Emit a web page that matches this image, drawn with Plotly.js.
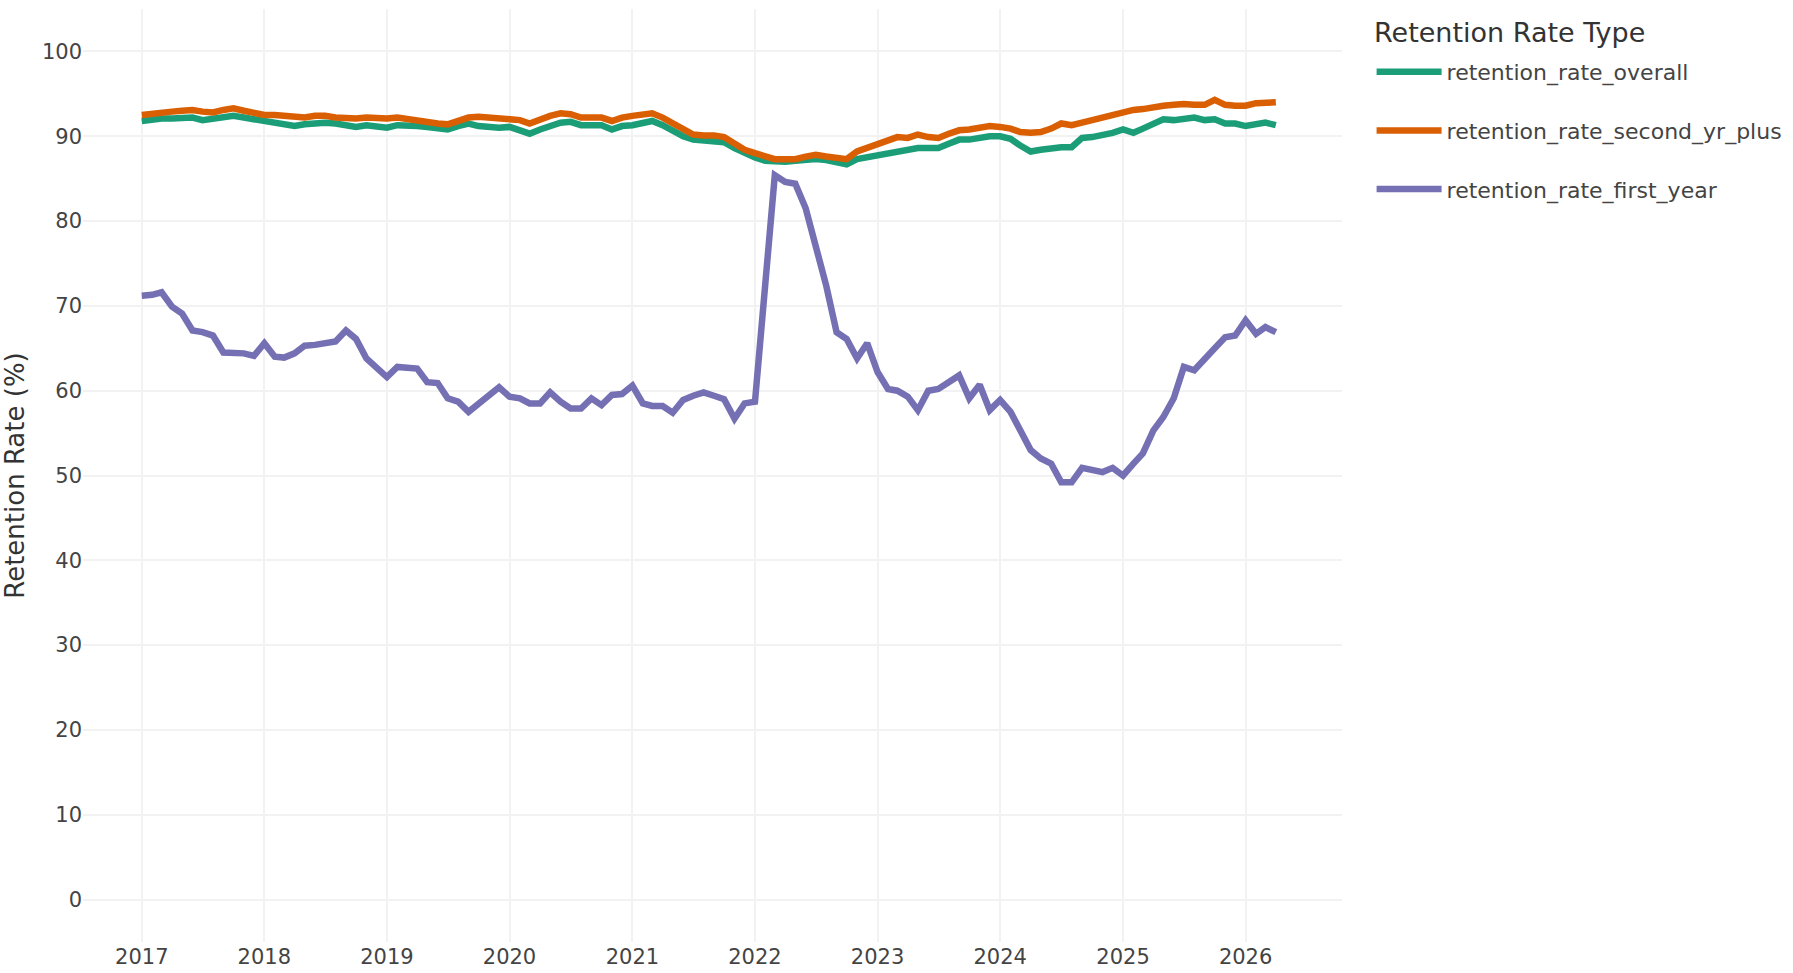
<!DOCTYPE html>
<html>
<head>
<meta charset="utf-8">
<script src="https://cdn.plot.ly/plotly-3.0.1.min.js"></script>
<style>html,body{margin:0;padding:0;background:#fff;}#chart{width:1793px;height:973px;}</style>
</head>
<body>
<div id="chart"></div>
<script>
// Monthly dates, Jan 2017 - Apr 2026
const dates = [
  '2017-01-01','2017-02-01','2017-03-01','2017-04-01','2017-05-01','2017-06-01','2017-07-01','2017-08-01','2017-09-01','2017-10-01','2017-11-01','2017-12-01',
  '2018-01-01','2018-02-01','2018-03-01','2018-04-01','2018-05-01','2018-06-01','2018-07-01','2018-08-01','2018-09-01','2018-10-01','2018-11-01','2018-12-01',
  '2019-01-01','2019-02-01','2019-03-01','2019-04-01','2019-05-01','2019-06-01','2019-07-01','2019-08-01','2019-09-01','2019-10-01','2019-11-01','2019-12-01',
  '2020-01-01','2020-02-01','2020-03-01','2020-04-01','2020-05-01','2020-06-01','2020-07-01','2020-08-01','2020-09-01','2020-10-01','2020-11-01','2020-12-01',
  '2021-01-01','2021-02-01','2021-03-01','2021-04-01','2021-05-01','2021-06-01','2021-07-01','2021-08-01','2021-09-01','2021-10-01','2021-11-01','2021-12-01',
  '2022-01-01','2022-02-01','2022-03-01','2022-04-01','2022-05-01','2022-06-01','2022-07-01','2022-08-01','2022-09-01','2022-10-01','2022-11-01','2022-12-01',
  '2023-01-01','2023-02-01','2023-03-01','2023-04-01','2023-05-01','2023-06-01','2023-07-01','2023-08-01','2023-09-01','2023-10-01','2023-11-01','2023-12-01',
  '2024-01-01','2024-02-01','2024-03-01','2024-04-01','2024-05-01','2024-06-01','2024-07-01','2024-08-01','2024-09-01','2024-10-01','2024-11-01','2024-12-01',
  '2025-01-01','2025-02-01','2025-03-01','2025-04-01','2025-05-01','2025-06-01','2025-07-01','2025-08-01','2025-09-01','2025-10-01','2025-11-01','2025-12-01',
  '2026-01-01','2026-02-01','2026-03-01','2026-04-01'
];

const retentionOverall = [
  91.8, 92.0, 92.1, 92.1, 92.2, 92.2, 91.9, 92.1, 92.2, 92.4, 92.2, 92.0,
  91.8, 91.6, 91.4, 91.2, 91.4, 91.6, 91.6, 91.5, 91.3, 91.1, 91.3, 91.2,
  91.0, 91.3, 91.3, 91.2, 91.1, 91.0, 90.8, 91.2, 91.5, 91.2, 91.0, 91.0,
  91.1, 90.6, 90.3, 90.8, 91.1, 91.6, 91.7, 91.3, 91.3, 91.3, 90.8, 91.2,
  91.3, 91.6, 91.8, 91.3, 90.6, 90.0, 89.6, 89.5, 89.4, 89.3, 88.6, 88.0,
  87.5, 87.1, 87.0, 87.0, 87.1, 87.2, 87.3, 87.2, 87.0, 86.7, 87.3, 87.5,
  87.7, 88.0, 88.2, 88.3, 88.6, 88.6, 88.6, 89.1, 89.6, 89.6, 89.8, 90.0,
  90.0, 89.7, 88.9, 88.2, 88.4, 88.6, 88.7, 88.7, 89.8, 89.9, 90.1, 90.4,
  90.8, 90.4, 90.9, 91.4, 92.0, 91.9, 92.1, 92.2, 91.9, 92.0, 91.5, 91.5,
  91.2, 91.4, 91.6, 91.3
];

const retentionSecondYrPlus = [
  92.5, 92.7, 92.8, 92.9, 93.0, 93.1, 92.9, 92.8, 93.1, 93.3, 93.0, 92.7,
  92.5, 92.5, 92.4, 92.2, 92.2, 92.4, 92.4, 92.2, 92.1, 92.1, 92.2, 92.1,
  92.1, 92.2, 92.0, 91.8, 91.6, 91.5, 91.4, 91.8, 92.2, 92.3, 92.2, 92.2,
  92.1, 91.9, 91.5, 92.0, 92.4, 92.7, 92.6, 92.2, 92.2, 92.2, 91.8, 92.2,
  92.4, 92.5, 92.7, 92.2, 91.6, 91.0, 90.2, 90.1, 90.1, 89.9, 89.2, 88.4,
  88.0, 87.6, 87.3, 87.3, 87.3, 87.6, 87.8, 87.6, 87.5, 87.3, 88.2, 88.6,
  89.0, 89.4, 89.9, 89.8, 90.2, 89.9, 89.8, 90.3, 90.7, 90.8, 91.0, 91.2,
  91.1, 90.9, 90.5, 90.4, 90.5, 90.9, 91.5, 91.3, 91.6, 91.9, 92.2, 92.4,
  92.9, 93.1, 93.2, 93.5, 93.6, 93.7, 93.8, 93.7, 93.7, 94.3, 93.7, 93.6,
  93.6, 93.9, 94.0, 94.0
];

const retentionFirstYear = [
  71.2, 71.3, 71.6, 69.9, 69.1, 67.1, 66.9, 66.5, 64.5, 64.4, 64.4, 64.1,
  65.6, 64.0, 63.9, 64.4, 65.3, 65.4, 65.6, 65.8, 67.1, 66.1, 63.8, 62.6,
  61.6, 62.8, 62.7, 62.6, 61.0, 60.9, 59.1, 58.7, 57.5, 58.5, 59.6, 60.4,
  59.3, 59.1, 58.5, 58.5, 59.8, 58.7, 57.9, 57.9, 59.1, 58.3, 59.5, 59.6,
  60.6, 58.5, 58.2, 58.2, 57.4, 58.9, 59.4, 59.8, 59.4, 59.0, 56.7, 58.5,
  58.7, 72.0, 85.4, 84.6, 84.4, 81.5, 77.2, 72.4, 66.9, 66.1, 63.8, 65.6,
  62.2, 60.2, 60.0, 59.3, 57.7, 60.0, 60.2, 61.0, 61.8, 59.1, 60.7, 57.7,
  58.9, 57.5, 55.5, 53.0, 52.0, 51.4, 49.2, 49.2, 50.9, 50.6, 50.4, 50.9,
  50.0, 51.4, 52.6, 55.3, 56.9, 59.1, 62.8, 62.4, 63.6, 65.0, 66.3, 66.5,
  68.3, 66.7, 67.5, 66.9
];

const seriesNames = ['retention_rate_overall', 'retention_rate_second_yr_plus', 'retention_rate_first_year'];
const seriesColors = ['#1b9e77', '#d95f02', '#7570b3'];
const seriesValues = [retentionOverall, retentionSecondYrPlus, retentionFirstYear];
const legendTitle = 'Retention Rate Type';
const yTitle = 'Retention Rate (%)';

const FONT = 'DejaVu Sans, Verdana, sans-serif';

const traces = seriesNames.map((name, i) => ({
  type: 'scatter',
  mode: 'lines',
  name: name,
  legendgroup: name,
  x: dates,
  y: seriesValues[i],
  line: {color: seriesColors[i], width: 6.5}
}));

const layout = {
  width: 1793,
  height: 973,
  margin: {l: 83, r: 451, t: 9, b: 31, autoexpand: false},
  paper_bgcolor: '#ffffff',
  plot_bgcolor: '#ffffff',
  font: {family: FONT, size: 21, color: '#444'},
  showlegend: true,
  legend: {
    font: {family: FONT, size: 22, color: '#444'},
    tracegroupgap: 27,
    itemwidth: 65,
    x: 1.0235, y: 0.955, xanchor: 'left', yanchor: 'top'
  },
  annotations: [{
    text: legendTitle,
    xref: 'paper', yref: 'paper',
    x: 1.0238, y: 0.9753, xanchor: 'left', yanchor: 'middle',
    showarrow: false,
    font: {family: FONT, size: 27, color: '#333'}
  }],
  xaxis: {
    type: 'date',
    range: ['2016-07-10', '2026-10-15'],
    tick0: '2017-01-01',
    dtick: 'M12',
    tickformat: '%Y',
    showgrid: true,
    gridcolor: '#f2f2f2',
    gridwidth: 2,
    zeroline: false,
    showline: false,
    ticks: '',
    tickfont: {family: FONT, size: 21, color: '#444'}
  },
  yaxis: {
    range: [-5, 105],
    dtick: 10,
    tick0: 0,
    showgrid: true,
    gridcolor: '#f2f2f2',
    gridwidth: 2,
    zeroline: true,
    zerolinecolor: '#f2f2f2',
    zerolinewidth: 2,
    showline: false,
    ticks: '',
    tickfont: {family: FONT, size: 21, color: '#444'},
    title: {text: yTitle, font: {family: FONT, size: 26, color: '#333'}}
  }
};

Plotly.newPlot('chart', traces, layout, {displayModeBar: false, responsive: false});
</script>
</body>
</html>
